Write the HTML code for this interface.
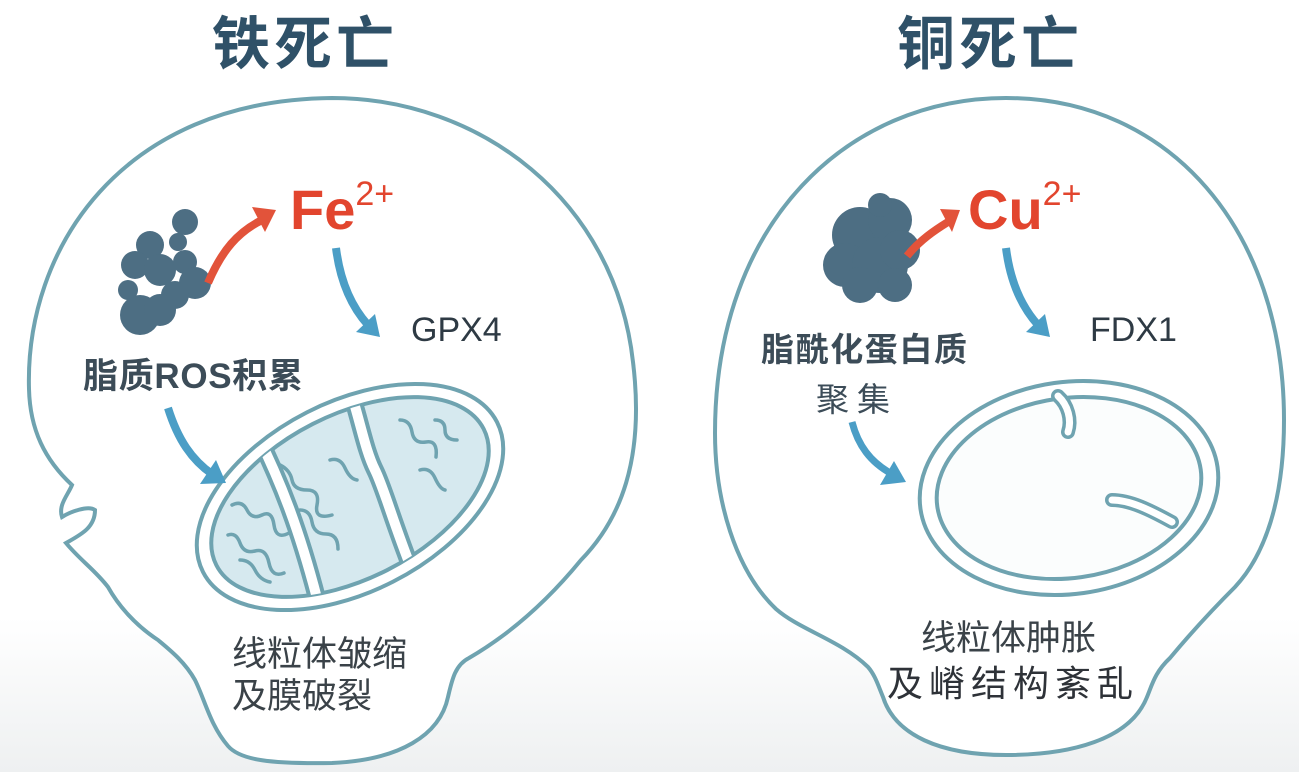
<!DOCTYPE html>
<html><head><meta charset="utf-8"><style>
html,body{margin:0;padding:0;background:#fff}
svg{display:block}
text{font-family:"Liberation Sans","Noto Sans CJK SC",sans-serif}
</style></head><body>
<svg width="1299" height="772" viewBox="0 0 1299 772" xmlns="http://www.w3.org/2000/svg">
<defs>
<linearGradient id="bg" x1="0" y1="0" x2="0" y2="1">
<stop offset="0" stop-color="#fff"/><stop offset="0.8" stop-color="#fff"/><stop offset="1" stop-color="#eef0f1"/>
</linearGradient>
<clipPath id="mclip"><ellipse cx="350" cy="497" rx="150" ry="82" transform="rotate(-27 350 497)"/></clipPath>
</defs>
<rect width="1299" height="772" fill="url(#bg)"/>

<text x="305" y="64" text-anchor="middle" font-size="58" font-weight="bold" fill="#2f5168" letter-spacing="4">铁死亡</text>
<text x="990" y="64" text-anchor="middle" font-size="58" font-weight="bold" fill="#2f5168" letter-spacing="4">铜死亡</text>

<path d="M332,98 C480,98 615,200 633,362 C645,460 620,520 581,560 C540,610 500,640 469,658 C455,665 452,680 448,697 C440,735 400,760 332,763 C270,764 240,760 228,746 C210,725 205,700 195,680 C185,662 170,650 158,640 C135,625 118,605 108,587 C95,570 80,560 66,543 C80,535 95,528 95,510 C88,505 70,512 62,517 C58,505 68,495 72,485 C45,460 30,430 29,389 C25,250 120,100 332,98 Z" fill="#fff" stroke="#6fa3b0" stroke-width="4"/>

<path d="M1006,98 C1170,98 1284,230 1284,420 C1284,500 1265,555 1235,587 C1210,612 1185,640 1170,658 C1155,672 1152,685 1147,697 C1130,740 1070,755 1006,755 C940,755 895,735 883,697 C878,685 875,675 868,667 C840,640 800,630 776,609 C735,570 715,500 715,433 C715,220 850,98 1006,98 Z" fill="#fff" stroke="#6fa3b0" stroke-width="4"/>

<g transform="rotate(-27 350 497)">
<ellipse cx="350" cy="497" rx="165" ry="95" fill="#fff" stroke="#6fa3b0" stroke-width="4"/>
<ellipse cx="350" cy="497" rx="150" ry="82" fill="#d6e9ef" stroke="#6fa3b0" stroke-width="4"/>
</g>
<g clip-path="url(#mclip)">
<path d="M255,430 C280,480 300,530 320,610" stroke="#6fa3b0" stroke-width="18" fill="none"/>
<path d="M255,430 C280,480 300,530 320,610" stroke="#fff" stroke-width="10" fill="none"/>
<path d="M350,390 C360,420 365,450 375,470 C385,490 395,530 420,590" stroke="#6fa3b0" stroke-width="18" fill="none"/>
<path d="M350,390 C360,420 365,450 375,470 C385,490 395,530 420,590" stroke="#fff" stroke-width="10" fill="none"/>
</g>
<g stroke="#6fa3b0" stroke-width="3.5" fill="none" stroke-linecap="round">
<path d="M232,505 q10,-5 15,5 t15,5 t12,10 t15,8"/>
<path d="M228,535 q8,-3 12,8 t15,8 t14,12 t15,10"/>
<path d="M240,560 q10,0 15,10 t15,12"/>
<path d="M280,465 q10,5 12,15 t15,10 t10,15 t15,10"/>
<path d="M300,510 q10,0 12,12 t14,12 t12,15"/>
<path d="M330,460 q10,-3 15,8 t12,12"/>
<path d="M400,420 q10,0 12,12 t14,10 t10,15"/>
<path d="M420,470 q10,-3 15,8 t10,12"/>
<path d="M435,420 q10,0 10,10 t12,10"/>
</g>

<g transform="rotate(-8 1069 488)">
<ellipse cx="1069" cy="488" rx="150" ry="106" fill="#fff" stroke="#6fa3b0" stroke-width="4"/>
<ellipse cx="1069" cy="488" rx="133" ry="90" fill="#fbfdfd" stroke="#6fa3b0" stroke-width="4"/>
</g>
<path d="M1058,396 C1068,405 1072,420 1068,432" stroke="#6fa3b0" stroke-width="14" fill="none" stroke-linecap="round"/>
<path d="M1058,396 C1068,405 1072,420 1068,432" stroke="#fff" stroke-width="7" fill="none" stroke-linecap="round"/>
<path d="M1112,500 C1130,500 1150,510 1172,522" stroke="#6fa3b0" stroke-width="14" fill="none" stroke-linecap="round"/>
<path d="M1112,500 C1130,500 1150,510 1172,522" stroke="#fff" stroke-width="7" fill="none" stroke-linecap="round"/>

<g fill="#4d6e83">
<circle cx="185" cy="222" r="13"/><circle cx="178" cy="242" r="9"/>
<circle cx="150" cy="245" r="14"/><circle cx="135" cy="265" r="14"/>
<circle cx="160" cy="270" r="16"/><circle cx="185" cy="262" r="12"/>
<circle cx="195" cy="283" r="16"/><circle cx="175" cy="295" r="14"/>
<circle cx="140" cy="315" r="20"/><circle cx="160" cy="310" r="16"/>
<circle cx="128" cy="290" r="10"/>
</g>
<g fill="#4d6e83">
<circle cx="860" cy="235" r="28"/><circle cx="890" cy="220" r="22"/>
<circle cx="845" cy="265" r="22"/><circle cx="880" cy="265" r="28"/>
<circle cx="900" cy="250" r="20"/><circle cx="860" cy="285" r="18"/>
<circle cx="895" cy="285" r="17"/><circle cx="880" cy="205" r="12"/>
</g>

<g fill="none" stroke-linecap="butt">
<path d="M208,283 C222,250 238,232 262,220" stroke="#e2533a" stroke-width="8"/>
<path d="M907,256 C920,240 935,230 948,222" stroke="#e2533a" stroke-width="8"/>
<path d="M336,248 C340,280 350,305 368,325" stroke="#4b9ec6" stroke-width="8"/>
<path d="M1006,248 C1010,280 1020,305 1038,325" stroke="#4b9ec6" stroke-width="8"/>
<path d="M168,408 C178,440 192,460 212,474" stroke="#4b9ec6" stroke-width="8"/>
<path d="M852,422 C858,445 870,462 892,474" stroke="#4b9ec6" stroke-width="7"/>
</g>
<polygon points="252,207 276,210 265,232" fill="#e2533a"/>
<polygon points="940,209 960,210 952,232" fill="#e2533a"/>
<polygon points="356,332 380,337 375,314" fill="#4b9ec6"/>
<polygon points="1026,332 1050,337 1045,314" fill="#4b9ec6"/>
<polygon points="200,484 226,483 216,460" fill="#4b9ec6"/>
<polygon points="880,485 906,482 894,461" fill="#4b9ec6"/>

<text x="290" y="229" font-size="56" font-weight="bold" fill="#e2452e">Fe<tspan font-size="34" dy="-24" font-weight="normal">2+</tspan></text>
<text x="968" y="229" font-size="56" font-weight="bold" fill="#e2452e">Cu<tspan font-size="34" dy="-24" font-weight="normal">2+</tspan></text>
<text x="411" y="341" font-size="34" fill="#2e3a44">GPX4</text>
<text x="1090" y="341" font-size="34" fill="#2e3a44">FDX1</text>
<text x="83" y="388" font-size="35" font-weight="bold" fill="#3c4c58" textLength="220">脂质ROS积累</text>
<text x="761" y="361" font-size="33" font-weight="bold" fill="#3c4c58" textLength="206">脂酰化蛋白质</text>
<text x="816" y="411" font-size="33" fill="#3c4c58" letter-spacing="8">聚集</text>
<text x="232" y="666" font-size="35" fill="#3a4248">线粒体皱缩</text>
<text x="232" y="708" font-size="35" fill="#3a4248">及膜破裂</text>
<text x="921" y="650" font-size="35" fill="#3a4248">线粒体肿胀</text>
<text x="887" y="696" font-size="36" fill="#2e3238" letter-spacing="6">及嵴结构紊乱</text>
</svg>
</body></html>
